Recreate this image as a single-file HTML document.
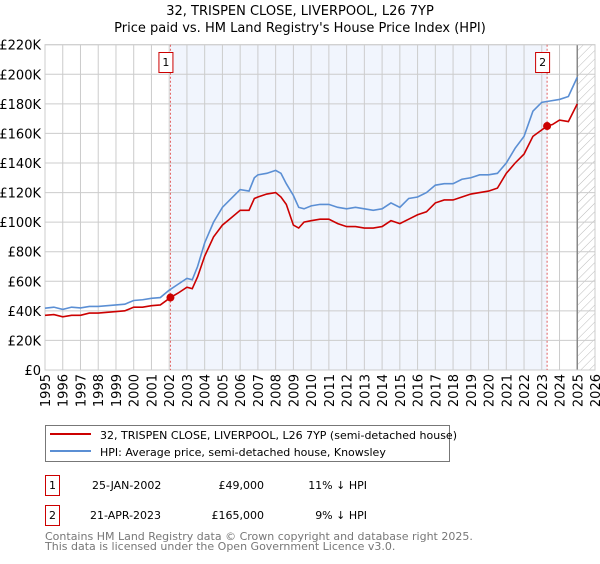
<!DOCTYPE html>
<html><head><meta charset="utf-8"><style>
body{margin:0;background:#fff;font-family:"DejaVu Sans","Liberation Sans",sans-serif;}
svg text{font-family:"DejaVu Sans","Liberation Sans",sans-serif;}
</style></head><body>
<svg id="c" width="600" height="560" xmlns="http://www.w3.org/2000/svg">
<defs><pattern id="hatch" width="6" height="6" patternUnits="userSpaceOnUse" patternTransform="rotate(45)"><line x1="0" y1="0" x2="0" y2="6" stroke="#bbb" stroke-width="1"/></pattern></defs>
<text x="300" y="15" text-anchor="middle" font-size="13" fill="#000">32, TRISPEN CLOSE, LIVERPOOL, L26 7YP</text>
<text x="300" y="32" text-anchor="middle" font-size="13" fill="#000">Price paid vs. HM Land Registry's House Price Index (HPI)</text>
<g id="plot"></g>
<g>
<rect x="45.5" y="425.5" width="404" height="36" fill="#fff" stroke="#777"/>
<line x1="50" y1="434" x2="91" y2="434" stroke="#cc0000" stroke-width="2"/>
<text x="100" y="439" font-size="11">32, TRISPEN CLOSE, LIVERPOOL, L26 7YP (semi-detached house)</text>
<line x1="50" y1="451" x2="91" y2="451" stroke="#5b8fd4" stroke-width="2"/>
<text x="100" y="456" font-size="11">HPI: Average price, semi-detached house, Knowsley</text>
</g>
<g font-size="11">
<rect x="45.5" y="475.5" width="14" height="20" fill="#fff" stroke="#cc0000"/>
<text x="52.5" y="489" text-anchor="middle">1</text>
<text x="92" y="489">25-JAN-2002</text>
<text x="264" y="489" text-anchor="end">£49,000</text>
<text x="367" y="489" text-anchor="end">11% ↓ HPI</text>
<rect x="45.5" y="505.5" width="14" height="20" fill="#fff" stroke="#cc0000"/>
<text x="52.5" y="519" text-anchor="middle">2</text>
<text x="90" y="519">21-APR-2023</text>
<text x="264" y="519" text-anchor="end">£165,000</text>
<text x="367" y="519" text-anchor="end">9% ↓ HPI</text>
</g>
<text x="45" y="540" font-size="11" fill="#777">Contains HM Land Registry data © Crown copyright and database right 2025.</text>
<text x="45" y="550" font-size="11" fill="#777">This data is licensed under the Open Government Licence v3.0.</text>
</svg>
<script>
const yTicks=[0,20,40,60,80,100,120,140,160,180,200,220];
const yTickLabels=["£0","£20K","£40K","£60K","£80K","£100K","£120K","£140K","£160K","£180K","£200K","£220K"];
const xYears=[1995,1996,1997,1998,1999,2000,2001,2002,2003,2004,2005,2006,2007,2008,2009,2010,2011,2012,2013,2014,2015,2016,2017,2018,2019,2020,2021,2022,2023,2024,2025,2026];
const hpiT=[1995,1995.5,1996,1996.5,1997,1997.5,1998,1998.5,1999,1999.5,2000,2000.5,2001,2001.5,2002,2002.5,2003,2003.3,2003.6,2004,2004.5,2005,2005.5,2006,2006.5,2006.8,2007,2007.5,2008,2008.3,2008.6,2009,2009.3,2009.6,2010,2010.5,2011,2011.5,2012,2012.5,2013,2013.5,2014,2014.5,2015,2015.5,2016,2016.5,2017,2017.5,2018,2018.5,2019,2019.5,2020,2020.5,2021,2021.5,2022,2022.5,2023,2023.5,2024,2024.5,2025];
const hpiV=[41.8,42.5,41,42.5,42,43,43,43.5,44,44.5,47,47.5,48.5,49,54,58,62,61,70,86,100,110,116,122,121,130,132,133,135,133,126,118,110,109,111,112,112,110,109,110,109,108,109,113,110,116,117,120,125,126,126,129,130,132,132,133,140,150,158,175,181,182,183,185,198];
const priceT=[1995,1995.5,1996,1996.5,1997,1997.5,1998,1998.5,1999,1999.5,2000,2000.5,2001,2001.5,2002.07,2002.5,2003,2003.3,2003.6,2004,2004.5,2005,2005.5,2006,2006.5,2006.8,2007,2007.5,2008,2008.3,2008.6,2009,2009.3,2009.6,2010,2010.5,2011,2011.5,2012,2012.5,2013,2013.5,2014,2014.5,2015,2015.5,2016,2016.5,2017,2017.5,2018,2018.5,2019,2019.5,2020,2020.5,2021,2021.5,2022,2022.5,2023.3,2023.6,2024,2024.5,2025];
const priceV=[37,37.5,36,37,37,38.5,38.5,39,39.5,40,42.5,42.5,43.5,44,49,52,56,55,63,77,90,98,103,108,108,116,117,119,120,117,112,98,96,100,101,102,102,99,97,97,96,96,97,101,99,102,105,107,113,115,115,117,119,120,121,123,133,140,146,158,165,166,169,168,180];
const sales=[{t:2002.07,v:49,n:"1"},{t:2023.3,v:165,n:"2"}];
const X0=45,X1=595,Y0=370,Y1=44.7;
const xs=t=>X0+(t-1995)*(X1-X0)/31;
const ys=v=>Y0-v*(Y0-Y1)/220;
const NS="http://www.w3.org/2000/svg";
const g=document.getElementById('plot');
function mk(tag,attrs,parent){const e=document.createElementNS(NS,tag);for(const k in attrs)e.setAttribute(k,attrs[k]);(parent||g).appendChild(e);return e;}
mk('rect',{x:X0,y:Y1,width:X1-X0,height:Y0-Y1,fill:'#fff'});
const shade=mk('rect',{x:xs(sales[0].t),y:Y1,width:xs(sales[1].t)-xs(sales[0].t),height:Y0-Y1,fill:'#eef3fc',opacity:0.8});


const hat=mk('rect',{x:xs(2025),y:Y1,width:X1-xs(2025),height:Y0-Y1,fill:'url(#hatch)'});


yTicks.forEach((v,i)=>{
 mk('line',{x1:X0,x2:X1,y1:ys(v),y2:ys(v),stroke:'#ccc','stroke-width':1});
 const t=mk('text',{x:X0-4,y:ys(v)+5,'text-anchor':'end','font-size':13});
 t.textContent=yTickLabels[i];
 
 
});
xYears.forEach(y=>{
 mk('line',{x1:xs(y),x2:xs(y),y1:Y1,y2:Y0,stroke:'#ccc','stroke-width':1});
 const t=mk('text',{x:0,y:0,'text-anchor':'end','font-size':13,transform:`translate(${xs(y)+5},${Y0+4}) rotate(-90)`});
 t.textContent=y;
 
 
});
mk('line',{x1:xs(2025),x2:xs(2025),y1:Y1,y2:Y0,stroke:'#888','stroke-width':1.5});
mk('rect',{x:X0,y:Y1,width:X1-X0,height:Y0-Y1,fill:'none',stroke:'#ccc'});
sales.forEach(s=>{
 const l=mk('line',{x1:xs(s.t),x2:xs(s.t),y1:Y1,y2:Y0,stroke:'#e06060','stroke-width':1,'stroke-dasharray':'2,2'});
 
 
});
const hp=mk('polyline',{points:hpiT.map((t,i)=>xs(t)+','+ys(hpiV[i])).join(' '),fill:'none',stroke:'#5b8fd4','stroke-width':1.6});


const pp=mk('polyline',{points:priceT.map((t,i)=>xs(t)+','+ys(priceV[i])).join(' '),fill:'none',stroke:'#cc0000','stroke-width':1.6});


sales.forEach(s=>{
 const c=mk('circle',{cx:xs(s.t),cy:ys(s.v),r:4,fill:'#cc0000'});
 
 
 const b=mk('rect',{x:xs(s.t)-11.5,y:52.5,width:14,height:20,fill:'#fff',stroke:'#cc0000'});
 
 
 const t=mk('text',{x:xs(s.t)-4.5,y:66,'text-anchor':'middle','font-size':11});
 t.textContent=s.n;
 
 
});
</script>
</body></html>
